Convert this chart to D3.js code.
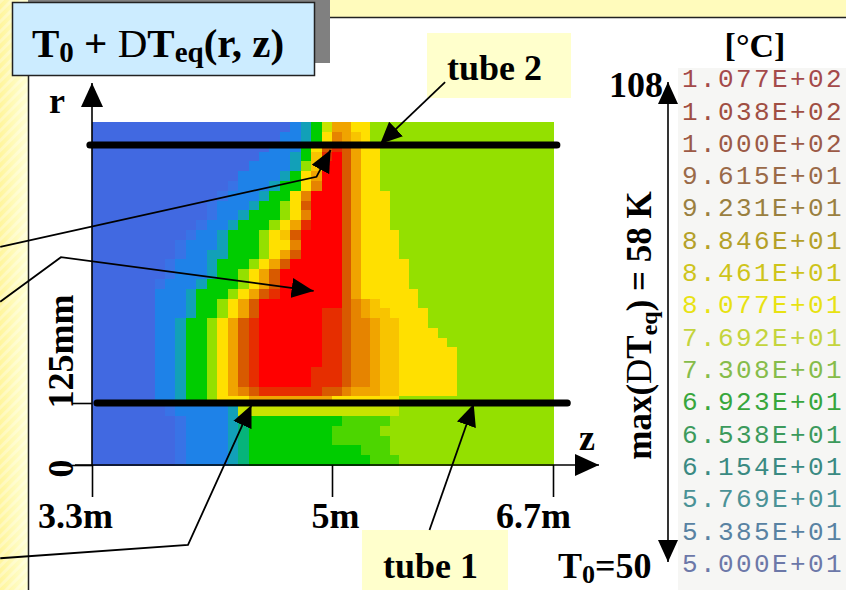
<!DOCTYPE html>
<html>
<head>
<meta charset="utf-8">
<script src="https://cdn.jsdelivr.net/npm/d3@7"></script>
<style>
  body { margin: 0; background: #fff; }
  svg text { font-family: "Liberation Serif", "Times New Roman", serif; font-weight: bold; }
  .legend text { font-family: "Liberation Mono", "Courier New", monospace; font-weight: normal; letter-spacing: 2.4px; }
</style>
</head>
<body>
<svg id="chart" width="846" height="590"></svg>
<script>
// ---- data ----
const zTicks = [3.3, 5, 6.7];
const zTickLabels = ['3.3m', '5m', '6.7m'];
const rTicks = [0, 125];
const rTickLabels = ['0', '125mm'];
const zRange = [3.3, 6.7];      // m
const rMax = 691;               // mm, top of the computed field

// 16 contour levels of the legend, low -> high
const levelValues = [50.00, 53.85, 57.69, 61.54, 65.38, 69.23, 73.08, 76.92,
                     80.77, 84.61, 88.46, 92.31, 96.15, 100.0, 103.8, 107.7];
const levelLabels = ['5.000E+01', '5.385E+01', '5.769E+01', '6.154E+01',
                     '6.538E+01', '6.923E+01', '7.308E+01', '7.692E+01',
                     '8.077E+01', '8.461E+01', '8.846E+01', '9.231E+01',
                     '9.615E+01', '1.000E+02', '1.038E+02', '1.077E+02'];
const levelColors = ['#4169e1', '#3873e6', '#1e82e8', '#12a0b8',
                     '#06b47a', '#00cc00', '#4cd600', '#94e000',
                     '#c8e400', '#ffe000', '#f8c400', '#f0a400',
                     '#e68400', '#d85a00', '#e62e00', '#ff0000'];
const legendTextColors = ['#6c78a8', '#5882a2', '#4a9296', '#3a8a82',
                          '#3c9a5c', '#38a63c', '#86bc4a', '#c4d43c',
                          '#e8e212', '#cec41a', '#b4a028', '#9a8040',
                          '#9a6a48', '#9c5a46', '#a04e42', '#a44a4a'];

// field rows from top (r = rMax) to bottom (r = 0); 46 cells along z,
// run-length coded as "level*count", level as a hex index into levelValues
const fieldRows = [
  '0*19 2 3 5 8 b*2 9*2 7*19',
  '0*18 2*2 3 5 9 c b a 9 7*19',
  '0*17 2*3 5 9 d e d b 9*2 7*18',
  '0*16 2*3 3 5 a e f d b 9*2 7*18',
  '0*15 2*4 3 7 a f*2 d b 9*2 7*18',
  '0*14 2*4 3 5 9 b f*2 d b 9*2 7*18',
  '0*13 1 2*3 3 5*2 9 c f*2 d b 9*2 7*18',
  '0*12 1 2*3 3 5*2 9 c f*3 d b 9*3 7*17',
  '0*11 1 2*3 3 5*2 7 9 d f*3 d b 9*3 7*17',
  '0*11 1 2*2 3 5*3 7 9 c f*3 d b 9*3 7*17',
  '0*10 1 2*2 3 5*3 7 9 b e f*3 d b 9*3 7*17',
  '0*9 1 2*2 3 5*3 7 9 a d f*4 d b 9*4 7*16',
  '0*8 1 2*3 3 5*3 7 9*2 c f*4 d b 9*4 7*16',
  '0*8 1 2*2 3*2 5*3 7 9 b d f*4 d b 9*4 7*16',
  '0*7 1 2*3 3 5*3 7 9 b d f*5 d b 9*5 7*15',
  '0*7 1 2*3 3 5*2 7 9 b d f*6 d b 9*5 7*15',
  '0*6 1 2*3 3 5*3 7 9 b d f*6 d b 9*5 7*15',
  '0*6 2*3 3 5*3 7 9 b d e f*6 d b 9*6 7*14',
  '0*6 2*3 3 5*2 7 9 b d f*8 d c b a 9*4 7*14',
  '0*6 2*3 3 5*2 7 9 b d f*6 e*2 d c b a*2 9*4 7*13',
  '0*6 2*2 3 5*2 7 9 b d e f*6 e*2 d c*2 b a*2 9*3 7*13',
  '0*6 2*2 3 5*2 7 9 b d e f*6 e*2 d c*2 b a*2 9*4 7*12',
  '0*6 2*2 3 5*2 7 9 b d e f*6 e*2 d c*2 b a*2 9*5 7*11',
  '0*6 2*2 3 5*2 7 9 b d e f*6 e*2 d c*2 b a*2 9*6 7*10',
  '0*6 2*2 3 5*2 7 9 b d e f*6 e*2 d c*2 b a*2 9*6 7*10',
  '0*6 2*2 3 5*2 7 9 b d e f*5 e*3 d c*2 b a*2 9*6 7*10',
  '0*6 2*2 3 5*2 7 9 b d e f*5 e*3 d c*2 b a*2 9*6 7*10',
  '0*6 2*2 3 5*2 7 9 b c d e*6 d*2 c b*3 a*2 9*6 7*10',
  '0*6 2*2 3 5*2 7 9*3 b*8 9*7 7*16',
  '0*7 1 2*5 3 8*16 7*16',
  '0*8 1 2*4 3 4 5*9 6*5 7*17',
  '0*8 1 2*4 3 4 5*8 6*5 7*18',
  '0*8 1 2*4 3 4 5*8 6*6 7*17',
  '0*8 1 2*4 3 4 5*11 6*3 7*17',
  '0*8 1 2*4 3 4 5*12 6*3 7*16'
];

// tubes (r in mm, z extent in m)
const tubes = [
  { name: 'tube 1', r: 125, z0: 3.335, z1: 6.81 },
  { name: 'tube 2', r: 645, z0: 3.285, z1: 6.73 }
];

// annotation arrows as [z, r] points, last point is the arrow tip
const arrows = [
  [[5.87, 772], [5.37, 647]],
  [[2.65, 440], [4.89, 581], [4.99, 635]],
  [[2.65, 329], [3.08, 419], [4.87, 351]],
  [[2.65, -188], [3.98, -161], [4.43, 121]],
  [[5.75, -131], [6.09, 123]]
];

// ---- drawing ----
const svg = d3.select('#chart');
const defs = svg.append('defs');

function addMarker(id, len, wid) {
  defs.append('marker')
      .attr('id', id)
      .attr('markerUnits', 'userSpaceOnUse')
      .attr('markerWidth', len)
      .attr('markerHeight', wid)
      .attr('refX', len)
      .attr('refY', wid / 2)
      .attr('orient', 'auto-start-reverse')
    .append('path')
      .attr('d', `M0,0L${len},${wid / 2}L0,${wid}Z`)
      .attr('fill', '#000');
}
addMarker('head', 22, 20);
addMarker('axisHead', 24, 22);

const stripeGrad = defs.append('linearGradient').attr('id', 'stripGrad')
    .attr('x1', 0).attr('x2', 1).attr('y1', 0).attr('y2', 0);
stripeGrad.append('stop').attr('offset', 0).attr('stop-color', '#fff59c');
stripeGrad.append('stop').attr('offset', 1).attr('stop-color', '#ffffd4');

defs.append('pattern')
    .attr('id', 'stripes')
    .attr('patternUnits', 'userSpaceOnUse')
    .attr('width', 7).attr('height', 7)
    .attr('patternTransform', 'rotate(45)')
  .append('rect')
    .attr('width', 3).attr('height', 7)
    .attr('fill', '#ffffff').attr('opacity', 0.3);

// slide background
svg.append('rect').attr('width', 846).attr('height', 590).attr('fill', '#fffbbc');
svg.append('rect').attr('width', 28).attr('height', 590).attr('fill', 'url(#stripGrad)');
svg.append('rect').attr('width', 28).attr('height', 590).attr('fill', 'url(#stripes)');
svg.append('rect')
    .attr('x', 28.5).attr('y', 17.5).attr('width', 830).attr('height', 590)
    .attr('fill', '#fff').attr('stroke', '#222').attr('stroke-width', 1.5);

// scales
const z = d3.scaleLinear().domain([3.3, 5, 6.7]).range([92, 332, 553]);
const r = d3.scaleLinear().domain([0, 125]).range([465, 403]);
const color = d3.scaleOrdinal().domain(d3.range(levelValues.length)).range(levelColors);

// expand the run-length rows into cells
const nCols = 46;
const dz = (zRange[1] - zRange[0]) / nCols;
const dr = rMax / fieldRows.length;
const cells = [];
fieldRows.forEach((row, j) => {
  let i = 0;
  row.split(' ').forEach(tok => {
    const [lv, n] = tok.split('*');
    const count = n ? +n : 1;
    for (let k = 0; k < count; k++) {
      cells.push({ i: i, j: j, level: parseInt(lv, 16) });
      i++;
    }
  });
  if (i !== nCols) console.warn('row', j, 'has', i, 'cells');
});

const heat = svg.append('g').attr('shape-rendering', 'crispEdges');
heat.selectAll('rect')
    .data(cells)
  .join('rect')
    .attr('x', d => z(zRange[0] + d.i * dz))
    .attr('y', d => r(rMax - d.j * dr))
    .attr('width', d => z(zRange[0] + (d.i + 1) * dz) - z(zRange[0] + d.i * dz) + 0.6)
    .attr('height', d => r(rMax - (d.j + 1) * dr) - r(rMax - d.j * dr) + 0.6)
    .attr('fill', d => color(d.level));

// axes
const zAxis = d3.axisBottom(z)
    .tickValues(zTicks)
    .tickSize(32)
    .tickPadding(5)
    .tickFormat((d, i) => zTickLabels[i]);
const zLabelShift = [-17, 3, -20];
const gz = svg.append('g')
    .attr('transform', 'translate(0,' + r(0) + ')')
    .call(zAxis);
gz.select('.domain').remove();
gz.selectAll('line').attr('stroke', '#000').attr('stroke-width', 1.6);
gz.selectAll('text')
    .attr('font-size', 36)
    .attr('dx', (d, i) => zLabelShift[i]);

const rAxis = d3.axisLeft(r)
    .tickValues(rTicks)
    .tickSize(20)
    .tickFormat((d, i) => rTickLabels[i]);
const rLabelShift = [-12, -5];
const gr = svg.append('g')
    .attr('transform', 'translate(' + z(3.3) + ',0)')
    .call(rAxis);
gr.select('.domain').remove();
gr.selectAll('line').attr('stroke', '#000').attr('stroke-width', 1.6);
gr.selectAll('text')
    .attr('font-size', 36)
    .attr('transform', 'rotate(-90)')
    .attr('text-anchor', 'start')
    .attr('x', (d, i) => rLabelShift[i])
    .attr('y', -19)
    .attr('dy', 0);

// axis arrows
svg.append('line')
    .attr('x1', z(3.3)).attr('x2', z(3.3))
    .attr('y1', r(0)).attr('y2', 83)
    .attr('stroke', '#000').attr('stroke-width', 1.6)
    .attr('marker-end', 'url(#axisHead)');
svg.append('line')
    .attr('x1', 75).attr('x2', 599)
    .attr('y1', r(0)).attr('y2', r(0))
    .attr('stroke', '#000').attr('stroke-width', 1.6)
    .attr('marker-end', 'url(#axisHead)');
svg.append('text').attr('x', 49).attr('y', 113).attr('font-size', 36).text('r');
svg.append('text').attr('x', 579).attr('y', 450).attr('font-size', 36).text('z');

// tubes
svg.append('g').selectAll('line')
    .data(tubes)
  .join('line')
    .attr('x1', d => z(d.z0)).attr('x2', d => z(d.z1))
    .attr('y1', d => r(d.r)).attr('y2', d => r(d.r))
    .attr('stroke', '#000').attr('stroke-width', 7)
    .attr('stroke-linecap', 'round');

// label boxes
svg.append('rect').attr('x', 427).attr('y', 33).attr('width', 144).attr('height', 65).attr('fill', '#ffffcc');
svg.append('text').attr('x', 447).attr('y', 80).attr('font-size', 36).text('tube 2');
svg.append('rect').attr('x', 362).attr('y', 530).attr('width', 146).attr('height', 62).attr('fill', '#ffffcc');
svg.append('text').attr('x', 383).attr('y', 578).attr('font-size', 36).text('tube 1');

// annotation arrows
const arrowLine = d3.line().x(p => z(p[0])).y(p => r(p[1]));
svg.append('g').selectAll('path')
    .data(arrows)
  .join('path')
    .attr('d', arrowLine)
    .attr('fill', 'none')
    .attr('stroke', '#000')
    .attr('stroke-width', 1.8)
    .attr('marker-end', 'url(#head)');

// title box with shadow
svg.append('rect').attr('x', 28).attr('y', -10).attr('width', 302).attr('height', 73).attr('fill', '#808080');
svg.append('rect')
    .attr('x', 12.5).attr('y', 2.5).attr('width', 302).attr('height', 73)
    .attr('fill', '#ccecff').attr('stroke', '#222').attr('stroke-width', 1.5);
const title = svg.append('text').attr('x', 32).attr('y', 57).attr('font-size', 41);
title.append('tspan').text('T');
title.append('tspan').attr('font-size', 29).attr('dy', 5).text('0');
title.append('tspan').attr('dy', -5).text(' + ');
title.append('tspan').attr('font-weight', 'normal').text('D');
title.append('tspan').text('T');
title.append('tspan').attr('font-size', 29).attr('dy', 5).text('eq');
title.append('tspan').attr('dy', -5).text('(r, z)');

// legend
const legendY = d3.scaleLinear()
    .domain([levelValues[levelValues.length - 1], levelValues[0]])
    .range([87, 572]);
svg.append('rect').attr('x', 678).attr('y', 68).attr('width', 168).attr('height', 522).attr('fill', '#f6f6f4');
const legend = svg.append('g').attr('class', 'legend');
legend.selectAll('text')
    .data(levelValues)
  .join('text')
    .attr('x', 682)
    .attr('y', d => legendY(d))
    .attr('font-size', 26)
    .attr('fill', (d, i) => legendTextColors[i])
    .text((d, i) => levelLabels[i]);

svg.append('text').attr('x', 755).attr('y', 57).attr('font-size', 34)
    .attr('text-anchor', 'middle').text('[°C]');
svg.append('text').attr('x', 663).attr('y', 97).attr('font-size', 36)
    .attr('text-anchor', 'end').text('108');
const t0 = svg.append('text').attr('x', 558).attr('y', 578).attr('font-size', 36);
t0.append('tspan').text('T');
t0.append('tspan').attr('font-size', 26).attr('dy', 5).text('0');
t0.append('tspan').attr('dy', -5).text('=50');

svg.append('line')
    .attr('x1', 668).attr('x2', 668)
    .attr('y1', legendY(levelValues[15]) - 5)
    .attr('y2', legendY(levelValues[0]) - 10)
    .attr('stroke', '#000').attr('stroke-width', 1.6)
    .attr('marker-start', 'url(#head)')
    .attr('marker-end', 'url(#head)');

const maxLabel = svg.append('text')
    .attr('transform', 'translate(651,' + ((legendY(levelValues[0]) + legendY(levelValues[15])) / 2 - 4) + ') rotate(-90)')
    .attr('text-anchor', 'middle')
    .attr('font-size', 35);
maxLabel.append('tspan').text('max(');
maxLabel.append('tspan').attr('font-weight', 'normal').text('D');
maxLabel.append('tspan').text('T');
maxLabel.append('tspan').attr('font-size', 24).attr('dy', 6).text('eq');
maxLabel.append('tspan').attr('dy', -6).text(') = 58 K');
</script>
</body>
</html>
